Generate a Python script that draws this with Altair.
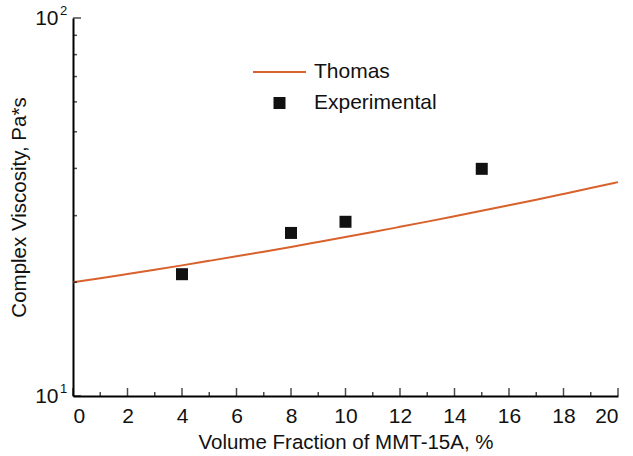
import altair as alt
import pandas as pd

# Thomas model curve, complex viscosity vs. filler volume fraction
fraction_curve = [0, 1, 2, 3, 4, 5, 6, 7, 8, 9, 10, 11, 12, 13, 14, 15, 16, 17, 18, 19, 20]
viscosity_curve = [20.0, 20.5, 21.03, 21.58, 22.16, 22.78, 23.42, 24.09, 24.8, 25.55, 26.33,
                   27.15, 28.02, 28.93, 29.89, 30.9, 31.96, 33.07, 34.25, 35.49, 36.8]

# Measured points
fraction_exp = [4, 8, 10, 15]
viscosity_exp = [21.0, 27.0, 28.9, 39.9]

# Tick positions and decade exponents
x_major = [0, 2, 4, 6, 8, 10, 12, 14, 16, 18, 20]
x_minor = [1, 3, 5, 7, 9, 11, 13, 15, 17, 19]
y_major = [10, 100]
y_exponent = ["1", "2"]
y_minor = [20, 30, 40, 50, 60, 70, 80, 90]

FONT = "Liberation Sans"
INK = "#111"
ORANGE = "#d9612c"

curve = pd.DataFrame({"phi": fraction_curve, "eta": viscosity_curve, "series": "Thomas"})
exp = pd.DataFrame({"phi": fraction_exp, "eta": viscosity_exp, "series": "Experimental"})
decades = pd.DataFrame({"v": y_major, "e": y_exponent})

xscale = alt.Scale(domain=[0, 20], nice=False, zero=False)
yscale = alt.Scale(type="log", domain=[10, 100], nice=False)

x_axis = alt.Axis(values=x_major, ticks=False, grid=False, title="Volume Fraction of MMT-15A, %",
                  labelFontSize=21, labelPadding=9, titleFontSize=20.5, titlePadding=6,
                  titleFontWeight="normal", domainColor="black", domainWidth=2,
                  labelColor=INK, titleColor=INK, labelFont=FONT, titleFont=FONT)
y_axis = alt.Axis(values=y_major, ticks=False, grid=False, title="Complex Viscosity, Pa*s",
                  labelExpr="'10'", labelFontSize=21, labelPadding=15,
                  titleFontSize=20.5, titlePadding=5,
                  titleFontWeight="normal", domainColor="black", domainWidth=2,
                  labelColor=INK, titleColor=INK, labelFont=FONT, titleFont=FONT)

line = alt.Chart(curve).mark_line(strokeWidth=2, interpolate="monotone").encode(
    x=alt.X("phi:Q", scale=xscale, axis=x_axis),
    y=alt.Y("eta:Q", scale=yscale, axis=y_axis),
    color=alt.Color("series:N", scale=alt.Scale(domain=["Thomas"], range=[ORANGE]),
                    legend=alt.Legend(title=None, orient="none", legendX=179, legendY=26.5,
                                      symbolType="stroke", symbolSize=2809, symbolStrokeWidth=2,
                                      labelFontSize=21, labelFont=FONT, labelColor=INK,
                                      labelOffset=7, padding=0)),
)

points = alt.Chart(exp).mark_point(filled=True, opacity=1, color=INK).encode(
    x=alt.X("phi:Q", scale=xscale),
    y=alt.Y("eta:Q", scale=yscale),
    shape=alt.Shape("series:N", scale=alt.Scale(domain=["Experimental"], range=["square"]),
                    legend=alt.Legend(title=None, orient="none", legendX=196, legendY=74.5,
                                      symbolFillColor=INK, symbolStrokeWidth=0,
                                      symbolSize=144, symbolOpacity=1,
                                      labelFontSize=21, labelFont=FONT, labelColor=INK,
                                      labelOffset=24, padding=0)),
    size=alt.value(144),
)

# exponents of the decade labels (10^1, 10^2)
exponents = alt.Chart(decades).mark_text(
    align="left", baseline="middle", fontSize=13, font=FONT, color=INK, dx=-13, dy=-7).encode(
    y=alt.Y("v:Q", scale=yscale), x=alt.datum(0), text="e:N")

# inward-pointing ticks drawn on the axes
xt_major = alt.Chart(pd.DataFrame({"v": x_major})).mark_tick(
    orient="vertical", size=8, thickness=1.5, color="black").encode(
    x=alt.X("v:Q", scale=xscale), y=alt.datum(10), yOffset=alt.value(-4))
xt_minor = alt.Chart(pd.DataFrame({"v": x_minor})).mark_tick(
    orient="vertical", size=4, thickness=1.5, color="black").encode(
    x=alt.X("v:Q", scale=xscale), y=alt.datum(10), yOffset=alt.value(-2))
yt_major = alt.Chart(pd.DataFrame({"v": y_major})).mark_tick(
    orient="horizontal", size=8, thickness=1.5, color="black").encode(
    y=alt.Y("v:Q", scale=yscale), x=alt.datum(0), xOffset=alt.value(4))
yt_minor = alt.Chart(pd.DataFrame({"v": y_minor})).mark_tick(
    orient="horizontal", size=4, thickness=1.5, color="black").encode(
    y=alt.Y("v:Q", scale=yscale), x=alt.datum(0), xOffset=alt.value(2))

chart = alt.layer(line, points, exponents, xt_major, xt_minor, yt_major, yt_minor).resolve_scale(
    color="independent", shape="independent"
).properties(
    width=545, height=378,
    autosize=alt.AutoSizeParams(type="none"),
    padding={"left": 73, "top": 18, "right": 15, "bottom": 60},
    background="white",
).configure_view(stroke=None)

chart.save("out.html", embed_options={"renderer": "svg", "actions": False})
